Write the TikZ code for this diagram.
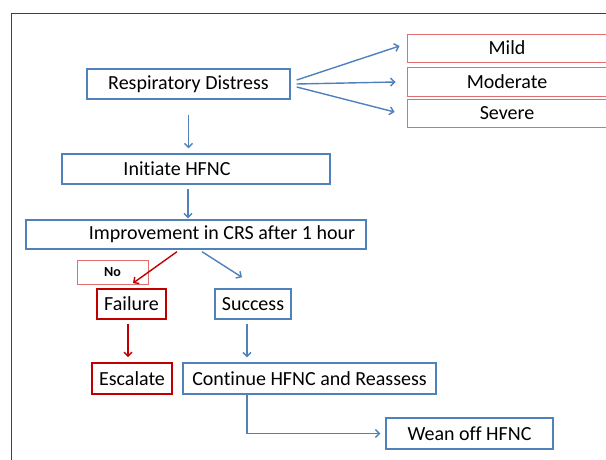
\documentclass[tikz,border=0pt]{standalone}
\usepackage{fontspec}
\setmainfont{Carlito}[Ligatures=NoCommon]
\usetikzlibrary{arrows.meta,calc}
\definecolor{boxblue}{RGB}{79,129,189}
\definecolor{sevpink}{RGB}{226,110,110}
\definecolor{failred}{RGB}{192,0,0}

\begin{document}
\begin{tikzpicture}[x=1pt,y=-1pt,
  bluebox/.style={draw=boxblue,line width=1.4pt,inner sep=0pt,font=\fontsize{20}{24}\selectfont},
  pinkbox/.style={draw=sevpink,line width=0.9pt,inner sep=0pt,font=\fontsize{20}{24}\selectfont},
  redbox/.style={draw=failred,line width=1.7pt,inner sep=0pt,font=\fontsize{20}{24}\selectfont},
  flow/.style={boxblue,line width=1.4pt,-{Straight Barb[length=4pt,width=8pt]}},
  redflow/.style={failred,line width=1.4pt,-{Straight Barb[length=4pt,width=8pt]}}]
\useasboundingbox (0,0) rectangle (606,460);
\clip (0,0) rectangle (606,460);
\fill[white] (0,0) rectangle (606,460);

% Frame
\draw[line width=1pt,black!75] (11,470) -- (11,14) -- (620,14);

% Boxes
\node[bluebox,minimum width=203pt,minimum height=30pt] (dist) at (188.5,84) {Respiratory Distress};
\node[pinkbox,minimum width=200pt,minimum height=28pt] (mild) at (507,48) {Mild};
\node[pinkbox,minimum width=200pt,minimum height=29pt] (mod) at (507,81.5) {Moderate};
\node[pinkbox,minimum width=200pt,minimum height=28pt] (sev) at (507,113) {Severe};
\node[bluebox,minimum width=268pt,minimum height=30pt] (init) at (196,169) {Initiate HFNC\hspace*{38pt}};
\node[bluebox,minimum width=340pt,minimum height=29pt] (impr) at (196,234.5) {\hspace*{52pt}Improvement in CRS after 1 hour};
\node[pinkbox,line width=0.6pt,minimum width=71pt,minimum height=24pt,font=\fontsize{14}{16}\selectfont\bfseries] (no) at (112.5,272) {No};
\node[redbox,minimum width=69pt,minimum height=30pt] (fail) at (131.5,304) {Failure};
\node[bluebox,minimum width=76pt,minimum height=30pt] (succ) at (253,304) {Success};
\node[redbox,minimum width=80pt,minimum height=31pt] (esc) at (132,378.5) {Escalate};
\node[bluebox,minimum width=253pt,minimum height=31pt] (cont) at (309.5,378.5) {Continue HFNC and Reassess};
\node[bluebox,minimum width=167pt,minimum height=31pt] (wean) at (469.5,433.5) {Wean off HFNC};

% Severity arrows
\draw[flow] ([shift={(6,-4)}]dist.east) -- ([shift={(-7,-2)}]mild.west);
\draw[flow] ([xshift=6pt]dist.east) -- ([shift={(-11,0.5)}]mod.west);
\draw[flow] ([shift={(6,3)}]dist.east) -- ([shift={(-12,-1)}]sev.west);

% Main flow
\draw[flow,shorten <=15pt,shorten >=5pt] (dist) -- (dist |- init.north);
\draw[flow,shorten <=4pt,shorten >=1pt] ([xshift=-8pt]init.south) -- ([xshift=-8pt]init.south |- impr.north);
\draw[redflow] ([shift={(-19,2)}]impr.south) -- ([shift={(1.5,-5)}]fail.north);
\draw[flow] ([shift={(6,2)}]impr.south) -- ([shift={(-11,-11)}]succ.north);
\draw[redflow,shorten <=4pt,shorten >=5pt] ([xshift=-3.5pt]fail.south) -- ([xshift=-3.5pt]fail.south |- esc.north);
\draw[flow,shorten <=4pt,shorten >=5pt] ([xshift=-6pt]succ.south) -- ([xshift=-6pt]succ.south |- cont.north);
\draw[flow,shorten >=5pt] ([xshift=-6pt]succ.south |- cont.south) |- (wean.west);
\end{tikzpicture}
\end{document}
